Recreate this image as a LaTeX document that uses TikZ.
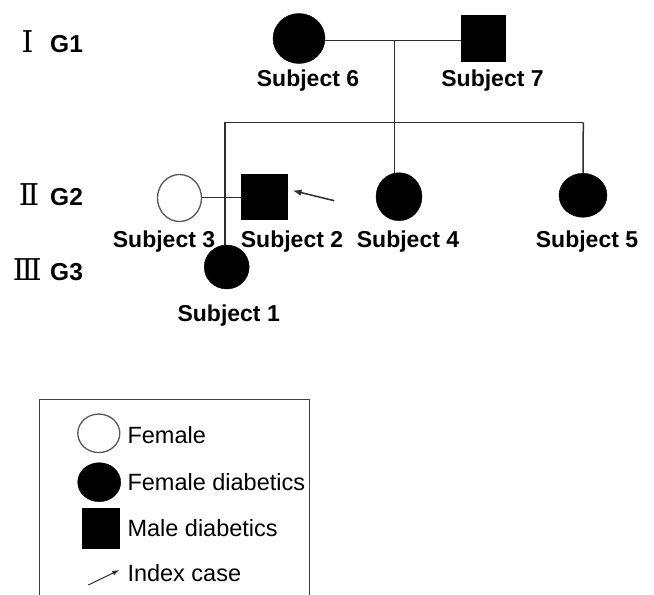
\documentclass[tikz,border=0pt]{standalone}
\usepackage{fontspec}
\setmainfont{Liberation Sans}
\newfontfamily\romfont{DejaVu Serif}
\usetikzlibrary{shapes.geometric,arrows.meta}
\begin{document}
\begin{tikzpicture}[x=1pt,y=-1pt,
 fem/.style={ellipse,draw=black,fill=black,inner sep=0pt},
 ofem/.style={ellipse,draw=black!65,fill=white,line width=1.3pt,inner sep=0pt},
 male/.style={rectangle,draw=black,fill=black,inner sep=0pt},
 lbl/.style={font=\fontsize{23}{27}\selectfont\bfseries,anchor=base,inner sep=0pt},
 gen/.style={font=\fontsize{24.5}{28}\selectfont\bfseries,anchor=base west,inner sep=0pt},
 rom/.style={font=\romfont\fontsize{30}{34}\selectfont,anchor=base,inner sep=0pt},
 leg/.style={font=\fontsize{23.5}{28}\selectfont,anchor=base west,inner sep=0pt},
 ln/.style={draw=black!82,line width=1.5pt}]
\useasboundingbox (0,0) rectangle (654,595);
\clip (0,0) rectangle (654,595);
\fill[white] (0,0) rectangle (654,595);
% persons
\node[fem,minimum width=52pt,minimum height=50pt] (s6) at (299,38.5) {};
\node[male,minimum width=44.5pt,minimum height=45.5pt] (s7) at (483,38) {};
\node[ofem,minimum width=44pt,minimum height=47pt] (s3) at (179.5,198) {};
\node[male,minimum width=46pt,minimum height=45pt] (s2) at (263.7,196.7) {};
\node[fem,minimum width=46pt,minimum height=48pt] (s4) at (399,196.7) {};
\node[fem,minimum width=48pt,minimum height=44pt] (s5) at (583,195.3) {};
\node[fem,minimum width=45pt,minimum height=44pt] (s1) at (226.7,267) {};
% labels
\node[lbl] (l6) at (308,86) {Subject 6};
\node[lbl] (l7) at (492.5,86) {Subject 7};
\node[lbl] (l3) at (164,247.5) {Subject 3};
\node[lbl] (l2) at (292,247.5) {Subject 2};
\node[lbl] (l4) at (408,247.5) {Subject 4};
\node[lbl] (l5) at (587,247.5) {Subject 5};
\node[lbl] (l1) at (228.7,321.5) {Subject 1};
% generations
\node[rom] (r1) at (27.5,52.3) {Ⅰ};
\node[gen] (g1) at (50,52.3) {G1};
\node[rom] (r2) at (29,205.5) {Ⅱ};
\node[gen] (g2) at (50,205.5) {G2};
\node[rom] (r3) at (27.3,280.5) {Ⅲ};
\node[gen] (g3) at (50,280.5) {G3};
% connectors
\coordinate (m1) at (394.5,40.5);
\coordinate (sib) at (394.5,122.3);
\coordinate (sL) at (225,122.3);
\coordinate (sR) at (583.3,122.3);
\draw[ln] (s6.east |- m1) -- (s7.west |- m1);
\draw[ln] (m1) -- (sib);
\draw[ln] (sL) -- (sR);
\draw[ln] (sL) -- (sL |- s1.north);
\draw[ln] (sib) -- (sib |- s4.north);
\draw[ln] (sR) -- (s5.north);
\coordinate (m2) at (225,197.7);
\draw[ln] (s3.east |- m2) -- (s2.west |- m2);
\coordinate (at) at (334.3,200.7);
\coordinate (ah) at (292.5,190.5);
\draw[ln,-{Latex[length=9pt,width=6.5pt]}] (at) -- (ah);
% legend
\draw[draw=black!75,line width=1.2pt] (39.3,399.3) rectangle (309.3,620);
\node[ofem,minimum width=42pt,minimum height=38.5pt] (k1) at (98.8,433.3) {};
\node[leg] (t1) at (127.3,443.3) {Female};
\node[fem,minimum width=43pt,minimum height=39pt] (k2) at (99.2,482.2) {};
\node[leg] (t2) at (127.3,490.3) {Female diabetics};
\node[male,minimum width=36.7pt,minimum height=40pt] (k3) at (100.7,528.3) {};
\node[leg] (t3) at (127.3,536.7) {Male diabetics};
\coordinate (k4a) at (88.3,585);
\coordinate (k4b) at (119.3,570);
\draw[black!82,line width=1pt,-{Latex[length=7pt,width=5pt]}] (k4a) -- (k4b);
\node[leg] (t4) at (127.3,581) {Index case};
\end{tikzpicture}
\end{document}
